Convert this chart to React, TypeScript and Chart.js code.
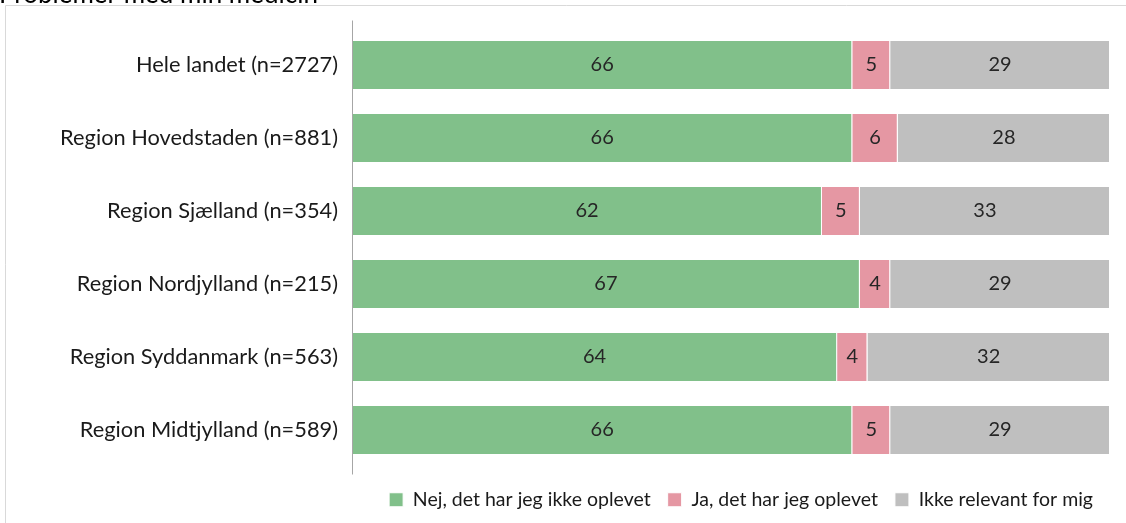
import React, { useEffect, useRef } from "react";
import { Chart, registerables } from "chart.js";

Chart.register(...registerables);

const categories = [
  "Hele landet (n=2727)",
  "Region Hovedstaden (n=881)",
  "Region Sjælland (n=354)",
  "Region Nordjylland (n=215)",
  "Region Syddanmark (n=563)",
  "Region Midtjylland (n=589)",
];
const seriesNames = ["Nej, det har jeg ikke oplevet", "Ja, det har jeg oplevet", "Ikke relevant for mig"];
const nej = [66, 66, 62, 67, 64, 66];
const ja = [5, 6, 5, 4, 4, 5];
const ikke = [29, 28, 33, 29, 32, 29];
const colors = ["#81C08A", "#E597A3", "#BFBFBF"];
const titleText = "Problemer med min medicin";

const FONT = "Lato, 'Open Sans', sans-serif";

const decorPlugin = {
  id: "decor",
  beforeDraw(chart: any) {
    const ctx = chart.ctx;
    ctx.save();
    ctx.strokeStyle = "#D9D9D9";
    ctx.lineWidth = 1;
    ctx.beginPath();
    ctx.moveTo(5.5, chart.height + 2);
    ctx.lineTo(5.5, 5.5);
    ctx.lineTo(chart.width + 2, 5.5);
    ctx.stroke();
    ctx.fillStyle = "#000000";
    ctx.font = `26px ${FONT}`;
    ctx.textBaseline = "alphabetic";
    ctx.textAlign = "left";
    ctx.fillText(titleText, -1, 3);
    ctx.restore();
  },
  afterDatasetsDraw(chart: any) {
    const ctx = chart.ctx;
    const area = chart.chartArea;
    ctx.save();
    ctx.strokeStyle = "#A6A6A6";
    ctx.lineWidth = 1;
    ctx.beginPath();
    ctx.moveTo(Math.round(area.left) + 0.5, area.top - 8);
    ctx.lineTo(Math.round(area.left) + 0.5, area.bottom + 8);
    ctx.stroke();
    ctx.fillStyle = "#262626";
    ctx.font = `20px ${FONT}`;
    ctx.textAlign = "center";
    ctx.textBaseline = "middle";
    chart.data.datasets.forEach((ds: any, i: number) => {
      const meta = chart.getDatasetMeta(i);
      meta.data.forEach((el: any, j: number) => {
        const v = ds.data[j];
        const cx = (el.x + el.base) / 2;
        ctx.fillText(String(v), cx, el.y);
      });
    });
    ctx.restore();
  },
};

export default function App() {
  const ref = useRef<HTMLCanvasElement>(null);
  useEffect(() => {
    const chart = new Chart(ref.current!, {
      type: "bar",
      data: {
        labels: categories,
        datasets: [nej, ja, ikke].map((d, i) => ({
          label: seriesNames[i],
          data: d,
          backgroundColor: colors[i],
          borderColor: "#FFFFFF",
          borderWidth: 1,
          barPercentage: 50 / 73,
          categoryPercentage: 1,
        })),
      },
      options: {
        indexAxis: "y",
        animation: false,
        responsive: false,
        maintainAspectRatio: false,
        layout: { padding: { top: 28.5, right: 16, bottom: 10, left: 0 } },
        scales: {
          x: {
            stacked: true,
            min: 0,
            max: 100,
            grid: { display: false },
            border: { display: false },
            ticks: { display: false },
            afterFit: (s: any) => {
              s.height = 6.5;
            },
          },
          y: {
            stacked: true,
            grid: { display: false, drawTicks: false },
            border: { display: false },
            ticks: {
              padding: 14,
              color: "#1a1a1a",
              font: { family: FONT, size: 21.8 },
            },
            afterFit: (s: any) => {
              s.width = 352;
            },
          },
        },
        plugins: {
          legend: {
            position: "bottom",
            align: "end",
            maxHeight: 40,
            labels: {
              boxWidth: 14,
              boxHeight: 14,
              padding: 17,
              color: "#1a1a1a",
              font: { family: FONT, size: 19.5 },
            },
          },
          tooltip: { enabled: false },
        },
      },
      plugins: [decorPlugin],
    } as any);
    return () => chart.destroy();
  }, []);
  return (
    <div style={{ position: "fixed", left: 0, top: 0, width: 1126, height: 523, background: "#fff" }}>
      <canvas ref={ref} width={1126} height={523} style={{ width: 1126, height: 523, display: "block" }} />
    </div>
  );
}
